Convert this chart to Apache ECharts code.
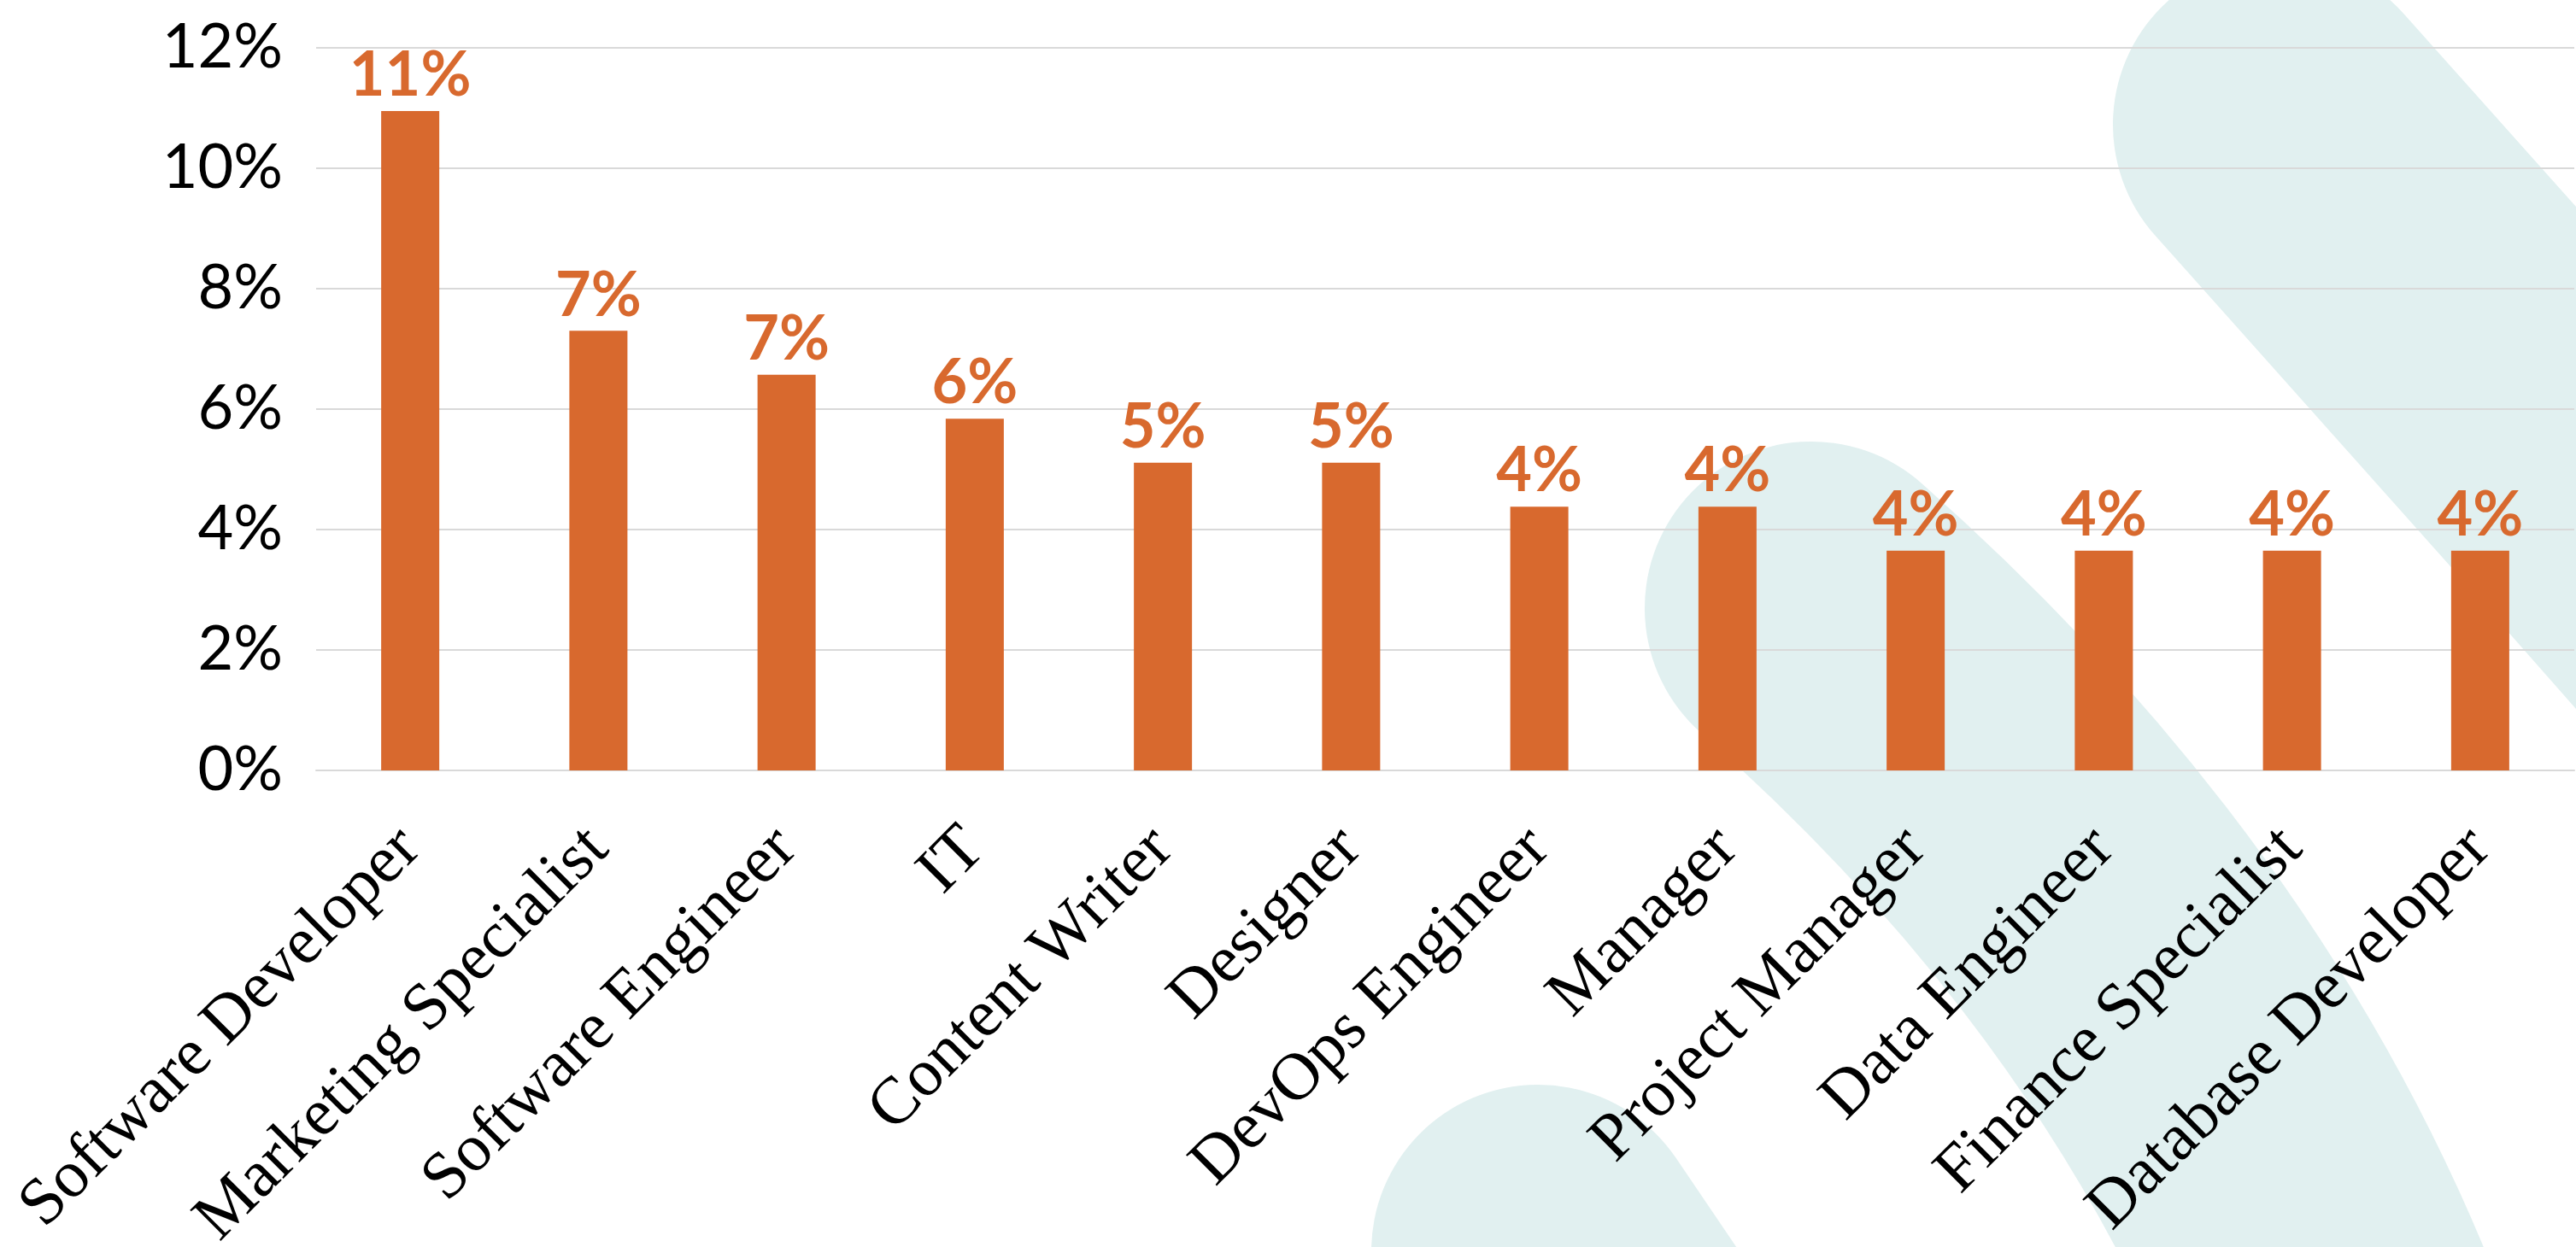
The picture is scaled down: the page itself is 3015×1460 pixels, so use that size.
<!DOCTYPE html>
<html>
<head>
<meta charset="utf-8">
<title>Job titles</title>
<script src="https://cdn.jsdelivr.net/npm/echarts@6/dist/echarts.min.js"></script>
<style>
  html, body { margin: 0; padding: 0; background: #fff; }
  #chart { width: 3015px; height: 1460px; }
</style>
</head>
<body>
<div id="chart"></div>
<script>
// categories and share of postings (%)
const categories = [
  'Software Developer', 'Marketing Specialist', 'Software Engineer', 'IT',
  'Content Writer', 'Designer', 'DevOps Engineer', 'Manager',
  'Project Manager', 'Data Engineer', 'Finance Specialist', 'Database Developer'
];
const shares = [10.95, 7.30, 6.57, 5.84, 5.11, 5.11, 4.38, 4.38, 3.65, 3.65, 3.65, 3.65];
const yTicks = [0, 2, 4, 6, 8, 10, 12];

const orange = '#d8692e';
const teal = '#e1f0f0';

const chart = echarts.init(document.getElementById('chart'));

// decorative background strokes (not data)
const bandStyle = {
  stroke: teal,
  lineWidth: 390,
  lineCap: 'round',
  fill: null
};

const option = {
  backgroundColor: '#fff',
  animation: false,
  graphic: [
    {
      type: 'polyline',
      z: -10,
      shape: { points: [[2668, 146], [3015, 535], [3200, 745]] },
      style: bandStyle
    },
    {
      type: 'bezierCurve',
      z: -10,
      shape: { x1: 2120, y1: 712, cpx1: 2310, cpy1: 880, cpx2: 2600, cpy2: 1180, x2: 2760, y2: 1620 },
      style: bandStyle
    },
    {
      type: 'polyline',
      z: -10,
      shape: { points: [[1800, 1465], [2000, 1760]] },
      style: bandStyle
    }
  ],
  grid: {
    left: 370,
    right: 2,
    top: 56,
    bottom: 558,
    outerBoundsMode: 'none'
  },
  xAxis: {
    type: 'category',
    data: categories,
    axisLine: { show: true, lineStyle: { color: '#d9d9d9', width: 2 } },
    axisTick: { show: false },
    axisLabel: {
      interval: 0,
      rotate: 45,
      margin: 80,
      color: '#000',
      fontFamily: 'Liberation Serif',
      fontSize: 78
    }
  },
  yAxis: {
    type: 'value',
    min: yTicks[0],
    max: yTicks[yTicks.length - 1],
    interval: 2,
    axisLine: { show: false },
    axisTick: { show: false },
    splitLine: { lineStyle: { color: '#d9d9d9', width: 2 } },
    axisLabel: {
      margin: 39,
      color: '#000',
      fontFamily: 'Lato',
      fontSize: 72,
      formatter: '{value}%'
    }
  },
  series: [
    {
      type: 'bar',
      data: shares,
      barWidth: 68,
      itemStyle: { color: orange },
      label: {
        show: true,
        position: 'top',
        distance: 5,
        color: orange,
        fontFamily: 'Lato',
        fontWeight: 'bold',
        fontSize: 72,
        formatter: function (p) {
          return Math.round(p.value) + '%';
        }
      }
    }
  ]
};

chart.setOption(option);
</script>
</body>
</html>
